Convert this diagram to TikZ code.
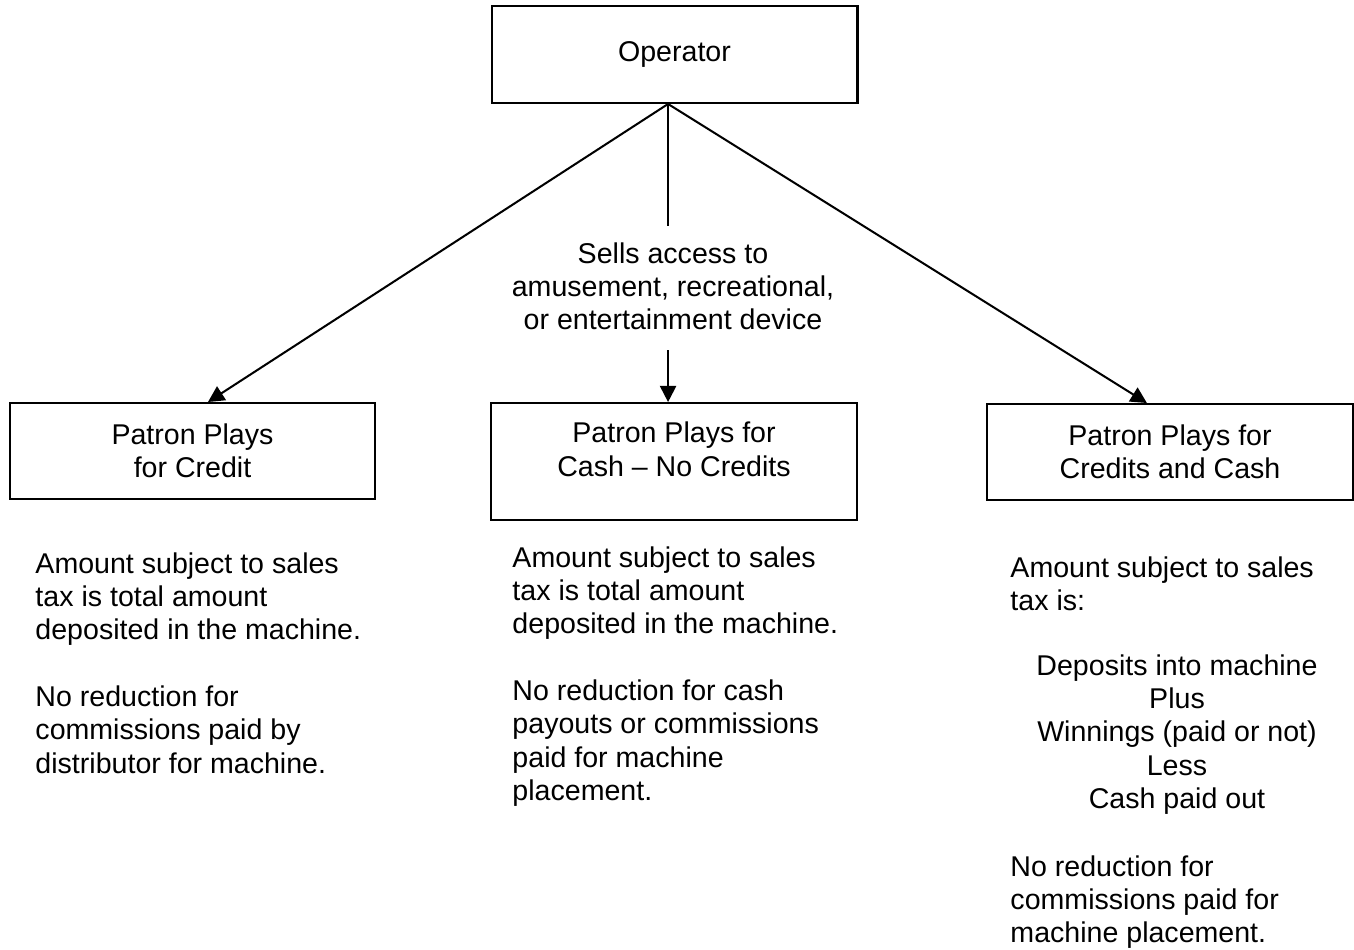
\documentclass[tikz,border=0pt]{standalone}
\usepackage{fontspec}
\setmainfont{Liberation Sans}
\usetikzlibrary{arrows.meta}

\begin{document}
\begin{tikzpicture}[x=0.42pt, y=-0.42pt,
	every node/.style={font=\fontsize{12}{14}\selectfont},
	box/.style={draw, line width=0.85pt, minimum width=153.7pt, align=center},
	note/.style={anchor=north west, align=left, inner sep=0pt},
	link/.style={line width=0.85pt},
	arr/.style={link, -{Triangle[length=6.8pt,width=6.8pt]}}]
	\useasboundingbox (0,0) rectangle (1354,949);

	% boxes
	\node[box, minimum height=40.7pt] (op) at (674.5,54.5) {Operator};
	\node[box, minimum height=40.3pt] (credit) at (192.5,451) {Patron Plays\\for Credit};
	\node[box, minimum height=49.1pt, text depth=10.5pt] (cash) at (674,461.5) {Patron Plays for\\Cash – No Credits};
	\node[box, minimum height=40.3pt] (both) at (1170,452) {Patron Plays for\\Credits and Cash};

	\node[align=center, anchor=north, inner sep=6.7pt] (sells) at (673,226)
		{Sells access to\\amusement, recreational,\\or entertainment device};

	% arrows
	\coordinate (apex) at ([xshift=-2.7pt]op.south);
	\draw[arr] (apex) -- ([xshift=6.5pt]credit.north);
	\draw[arr] (apex) -- ([xshift=-9.7pt]both.north);
	\draw[link] (apex) -- (sells.north -| apex);
	\draw[arr] ([yshift=-1.5pt]sells.south -| apex) -- (cash.north -| apex);

	% texts below the boxes
	\node[note] (credittxt) at (35,552) {Amount subject to sales\\tax is total amount\\deposited in the machine.\\[14pt]No reduction for\\commissions paid by\\distributor for machine.};
	\node[note] (cashtxt) at (512,546) {Amount subject to sales\\tax is total amount\\deposited in the machine.\\[14pt]No reduction for cash\\payouts or commissions\\paid for machine\\placement.};
	\node[note] (bothtxt) at (1010,556) {Amount subject to sales\\tax is:};
	\node[align=center, anchor=north, inner sep=0pt] (calc) at (1177,654) {Deposits into machine\\Plus\\Winnings (paid or not)\\Less\\Cash paid out};
	\node[note] (bothnote) at (1010,855) {No reduction for\\commissions paid for\\machine placement.};
\end{tikzpicture}
\end{document}
